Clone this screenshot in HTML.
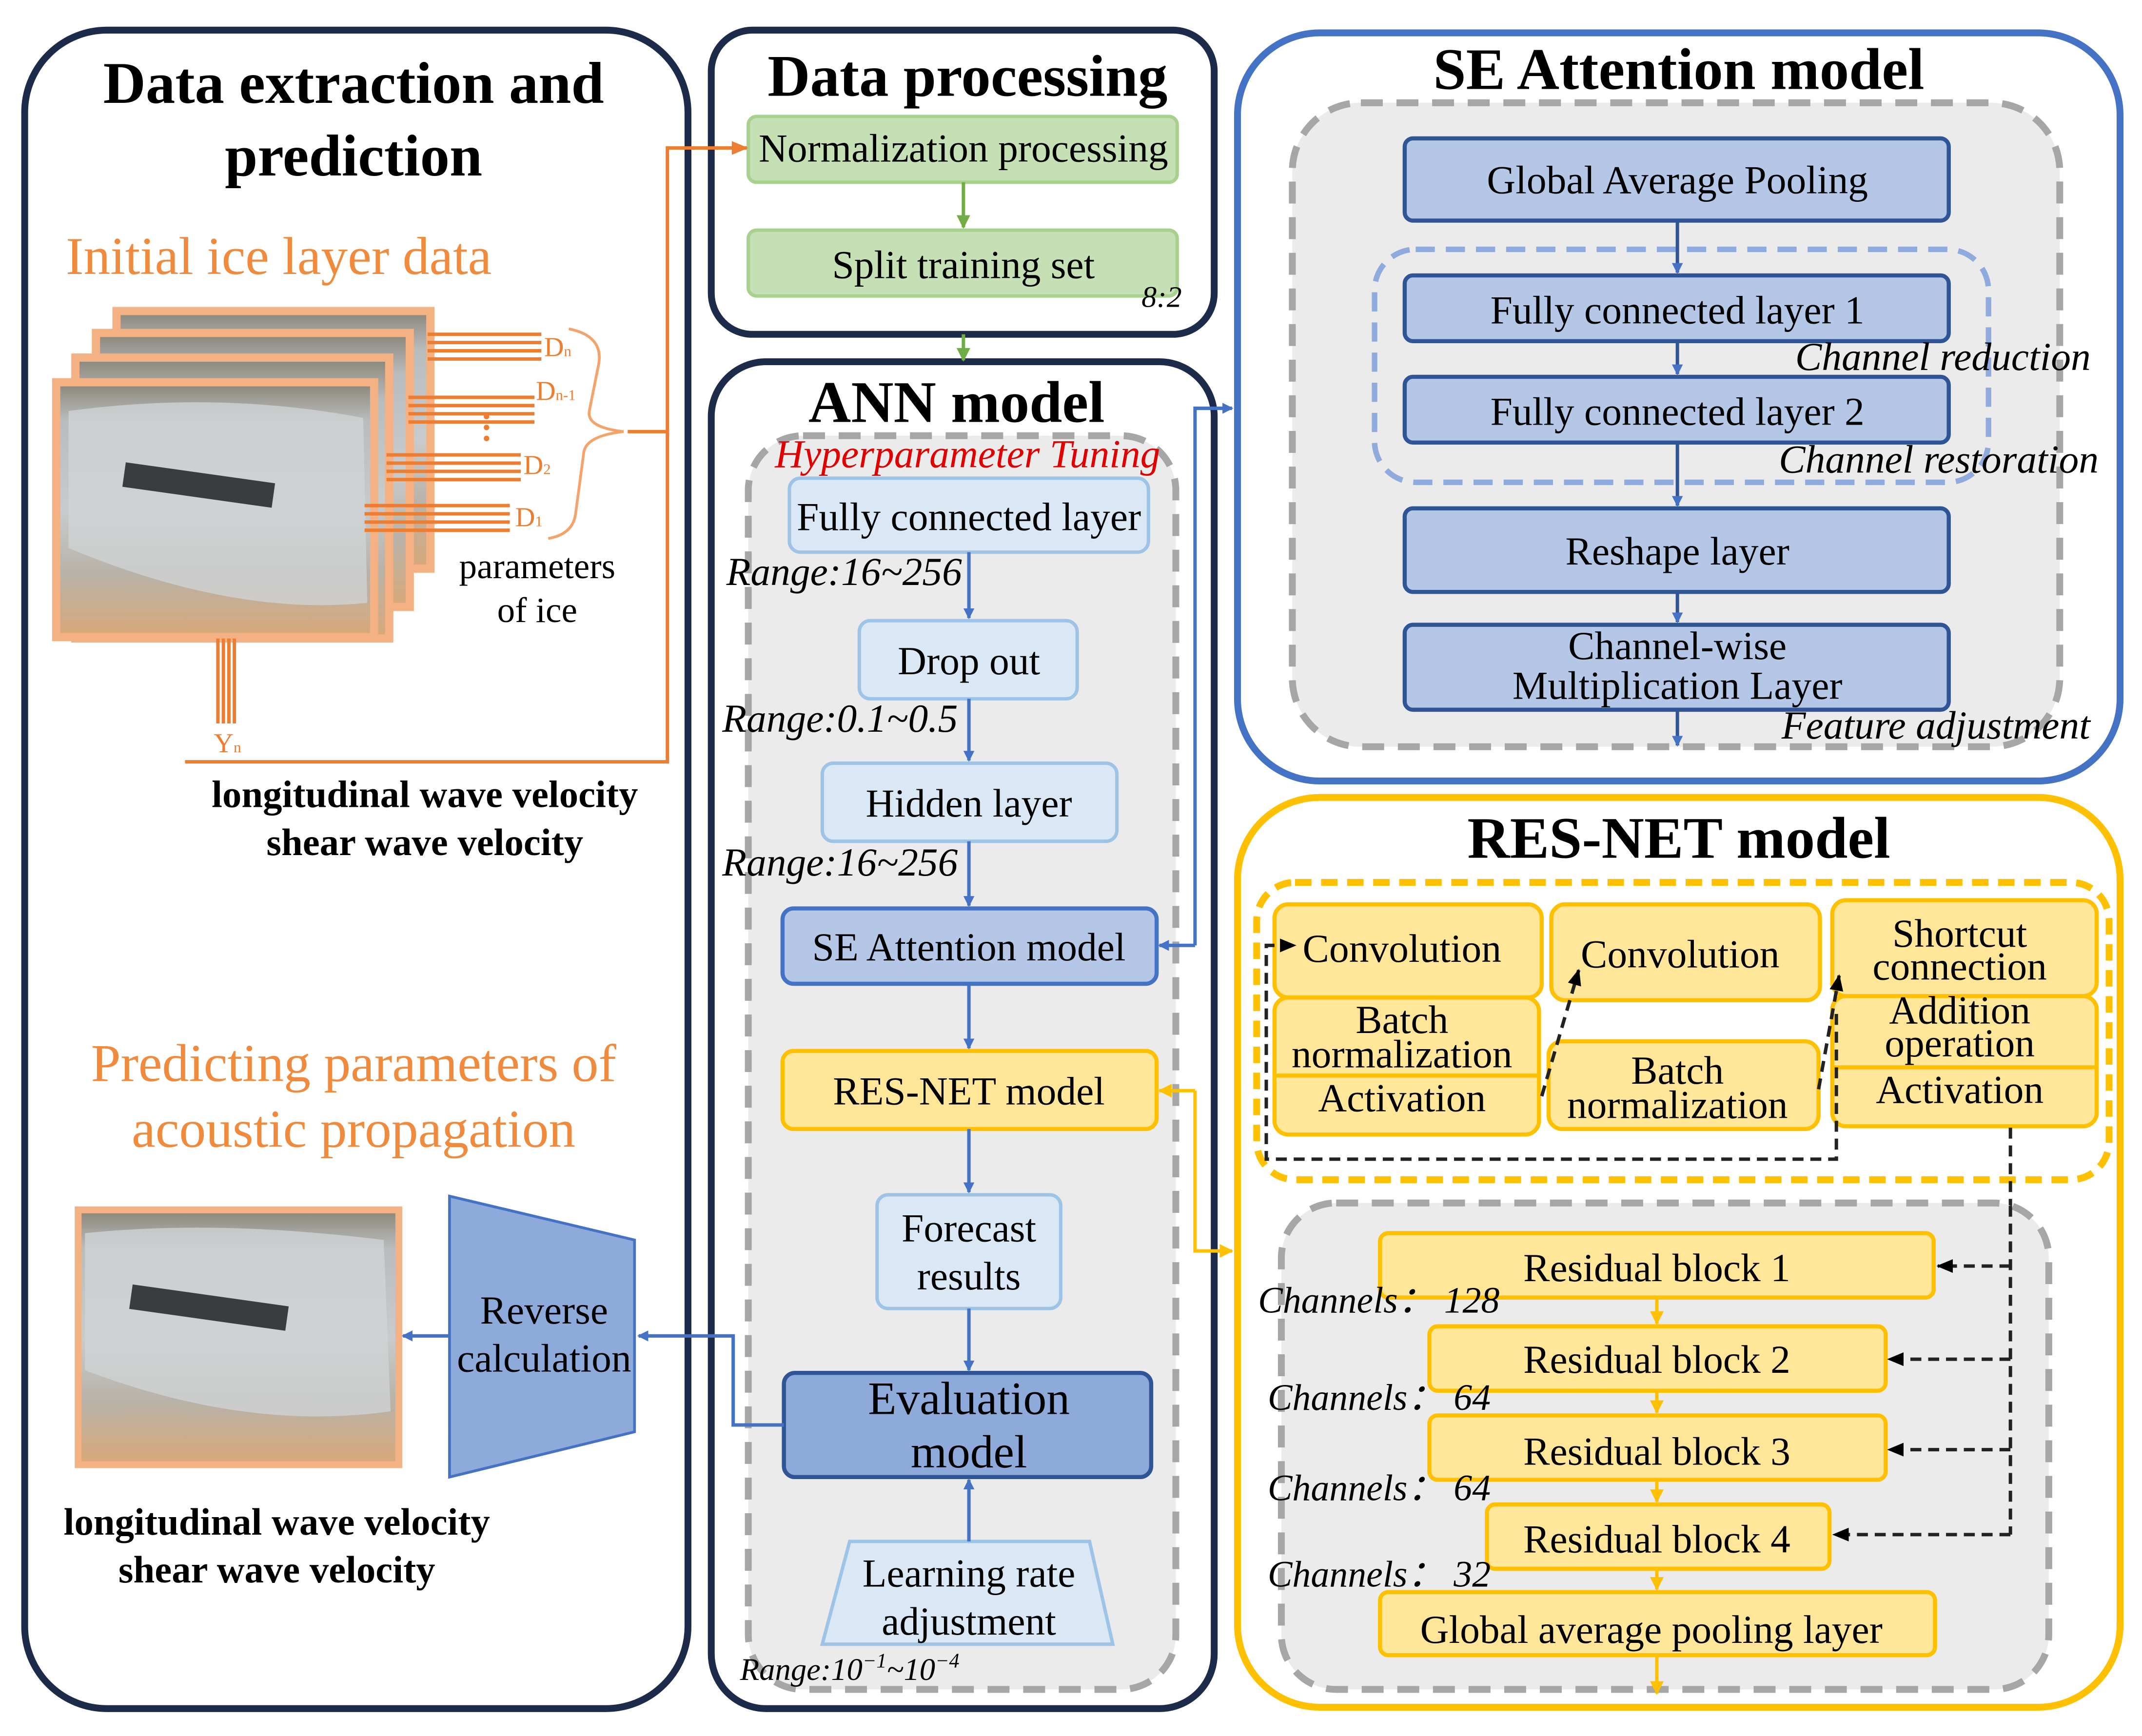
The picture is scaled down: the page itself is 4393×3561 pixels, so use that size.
<!DOCTYPE html>
<html><head><meta charset="utf-8"><style>
html,body{margin:0;padding:0;background:#fff}
svg{display:block}
text{font-family:"Liberation Serif",serif;fill:#000}
.t{text-anchor:middle}
.it{font-style:italic}
.h{font-weight:bold;text-anchor:middle}
</style></head><body>
<svg width="4393" height="3561" viewBox="0 0 1563 1267" xmlns="http://www.w3.org/2000/svg" font-size="29">
<defs>
<marker id="ab" markerWidth="8" markerHeight="8" refX="7" refY="4" orient="auto" markerUnits="userSpaceOnUse"><path d="M0,0 L8,4 L0,8 z" fill="#4472c4"/></marker>
<marker id="ao" markerWidth="12" markerHeight="10" refX="11" refY="5" orient="auto" markerUnits="userSpaceOnUse"><path d="M0,0 L12,5 L0,10 z" fill="#ed7d31"/></marker>
<marker id="ag" markerWidth="10" markerHeight="10" refX="9" refY="5" orient="auto" markerUnits="userSpaceOnUse"><path d="M0,0 L10,5 L0,10 z" fill="#70ad47"/></marker>
<marker id="ay" markerWidth="10" markerHeight="10" refX="9" refY="5" orient="auto" markerUnits="userSpaceOnUse"><path d="M0,0 L10,5 L0,10 z" fill="#ffc000"/></marker>
<marker id="ak" markerWidth="12" markerHeight="10" refX="11" refY="5" orient="auto" markerUnits="userSpaceOnUse"><path d="M0,0 L12,5 L0,10 z" fill="#000"/></marker>
<linearGradient id="ice" x1="0" y1="0" x2="0" y2="1">
<stop offset="0" stop-color="#8a8478"/><stop offset="0.15" stop-color="#b9bcbd"/><stop offset="0.5" stop-color="#c8cbcc"/><stop offset="0.75" stop-color="#b8b2a8"/><stop offset="1" stop-color="#d9a878"/></linearGradient>
</defs>

<!-- LEFT PANEL -->
<rect x="18" y="22" width="484" height="1225" rx="60" fill="#fff" stroke="#1c2b4a" stroke-width="5"/>
<text x="258" y="75" class="h" font-size="43">Data extraction and</text>
<text x="258" y="128" class="h" font-size="43">prediction</text>
<text x="48" y="200" font-size="39" style="fill:#f08a3c">Initial ice layer data</text>
<g stroke="#f4b183" stroke-width="6">
<rect x="85" y="227" width="229" height="188" fill="url(#ice)"/>
<rect x="70" y="243" width="229" height="200" fill="url(#ice)"/>
<rect x="55" y="261" width="229" height="205" fill="url(#ice)"/>
<rect x="41" y="279" width="232" height="186" fill="url(#ice)"/>
</g>
<path d="M50,300 Q160,285 265,305 L268,440 Q170,450 50,400 Z" fill="#d0d3d4" opacity="0.8"/>
<rect x="90" y="345" width="110" height="18" fill="#3a3d40" transform="rotate(8 145 354)"/>
<g stroke="#ed7d31" stroke-width="2.5">
<line x1="312" y1="244" x2="395" y2="244"/><line x1="312" y1="250" x2="395" y2="250"/><line x1="312" y1="256" x2="395" y2="256"/><line x1="312" y1="262" x2="395" y2="262"/>
<line x1="298" y1="290" x2="390" y2="290"/><line x1="298" y1="296" x2="390" y2="296"/><line x1="298" y1="302" x2="390" y2="302"/><line x1="298" y1="308" x2="390" y2="308"/>
<line x1="282" y1="332" x2="380" y2="332"/><line x1="282" y1="338" x2="380" y2="338"/><line x1="282" y1="344" x2="380" y2="344"/><line x1="282" y1="350" x2="380" y2="350"/>
<line x1="266" y1="369" x2="372" y2="369"/><line x1="266" y1="375" x2="372" y2="375"/><line x1="266" y1="381" x2="372" y2="381"/><line x1="266" y1="387" x2="372" y2="387"/>
<line x1="159" y1="466" x2="159" y2="528"/><line x1="163" y1="466" x2="163" y2="528"/><line x1="167" y1="466" x2="167" y2="528"/><line x1="171" y1="466" x2="171" y2="528"/>
</g>
<g font-size="20">
<text x="397" y="260" style="fill:#ed7d31">D<tspan font-size="11">n</tspan></text>
<text x="391" y="292" style="fill:#ed7d31">D<tspan font-size="11">n-1</tspan></text>
<text x="382" y="346" style="fill:#ed7d31">D<tspan font-size="11">2</tspan></text>
<text x="376" y="384" style="fill:#ed7d31">D<tspan font-size="11">1</tspan></text>
<text x="156" y="549" style="fill:#ed7d31">Y<tspan font-size="11">n</tspan></text>
</g>
<circle cx="355" cy="304" r="2" fill="#ed7d31"/><circle cx="355" cy="312" r="2" fill="#ed7d31"/><circle cx="355" cy="320" r="2" fill="#ed7d31"/>
<path d="M415,240 Q440,245 437,265 L430,300 Q428,312 455,315 Q428,318 426,330 L420,375 Q418,390 400,393" fill="none" stroke="#f4a36a" stroke-width="2"/>
<text x="392" y="422" class="t" font-size="26">parameters</text>
<text x="392" y="454" class="t" font-size="26">of ice</text>
<text x="310" y="589" class="h" font-size="28">longitudinal wave velocity</text>
<text x="310" y="624" class="h" font-size="28">shear wave velocity</text>
<text x="258" y="789" class="t" font-size="39" style="fill:#f08a3c">Predicting parameters of</text>
<text x="258" y="837" class="t" font-size="39" style="fill:#f08a3c">acoustic propagation</text>
<rect x="57" y="883" width="234" height="186" fill="url(#ice)" stroke="#f4b183" stroke-width="5"/>
<path d="M62,900 Q160,890 280,905 L285,1030 Q180,1045 62,1000 Z" fill="#d0d3d4" opacity="0.8"/>
<rect x="95" y="945" width="115" height="18" fill="#3a3d40" transform="rotate(8 150 954)"/>
<path d="M328,873 L463,905 L463,1045 L328,1078 Z" fill="#8eaadb" stroke="#4472c4" stroke-width="2"/>
<text x="397" y="966" class="t">Reverse</text>
<text x="397" y="1001" class="t">calculation</text>
<line x1="328" y1="975" x2="294" y2="975" stroke="#4472c4" stroke-width="2.5" marker-end="url(#ab)"/>
<text x="202" y="1120" class="h" font-size="28">longitudinal wave velocity</text>
<text x="202" y="1155" class="h" font-size="28">shear wave velocity</text>

<!-- DATA PROCESSING -->
<rect x="519" y="22" width="367" height="222" rx="30" fill="#fff" stroke="#1c2b4a" stroke-width="5"/>
<text x="706" y="70" class="h" font-size="43">Data processing</text>
<rect x="546" y="85" width="313" height="48" rx="6" fill="#c5e0b4" stroke="#a9d18e" stroke-width="2.5"/>
<text x="703" y="118" class="t">Normalization processing</text>
<line x1="703" y1="133" x2="703" y2="166" stroke="#70ad47" stroke-width="2.5" marker-end="url(#ag)"/>
<rect x="546" y="168" width="313" height="48" rx="6" fill="#c5e0b4" stroke="#a9d18e" stroke-width="2.5"/>
<text x="703" y="203" class="t">Split training set</text>
<text x="833" y="224" class="it" font-size="22">8:2</text>

<!-- ANN MODEL -->
<rect x="519" y="264" width="367" height="983" rx="40" fill="#fff" stroke="#1c2b4a" stroke-width="5"/>
<line x1="703" y1="244" x2="703" y2="263" stroke="#70ad47" stroke-width="2.5" marker-end="url(#ag)"/>
<text x="698" y="308" class="h" font-size="43">ANN model</text>
<rect x="546" y="318" width="312" height="915" rx="40" fill="#ebebeb" stroke="#a6a6a6" stroke-width="5" stroke-dasharray="16,10"/>
<text x="706" y="341" class="it t" style="fill:#e00000">Hyperparameter Tuning</text>
<g stroke="#9dc3e6" stroke-width="2.5" fill="#dae8f5">
<rect x="576" y="349" width="262" height="54" rx="8"/>
<rect x="627" y="453" width="159" height="57" rx="8"/>
<rect x="600" y="557" width="215" height="57" rx="8"/>
<rect x="640" y="872" width="134" height="83" rx="8"/>
<path d="M620,1125 H795 L812,1200 H600 Z"/>
</g>
<text x="707" y="387" class="t">Fully connected layer</text>
<text x="707" y="492" class="t">Drop out</text>
<text x="707" y="596" class="t">Hidden layer</text>
<text x="707" y="906" class="t">Forecast</text>
<text x="707" y="941" class="t">results</text>
<text x="707" y="1158" class="t">Learning rate</text>
<text x="707" y="1193" class="t">adjustment</text>
<text x="530" y="427" class="it">Range:16~256</text>
<text x="527" y="534" class="it">Range:0.1~0.5</text>
<text x="527" y="639" class="it">Range:16~256</text>
<text x="540" y="1226" class="it" font-size="23">Range:10<tspan font-size="15" dy="-9">−1</tspan><tspan dy="9">~10</tspan><tspan font-size="15" dy="-9">−4</tspan></text>
<rect x="571" y="663" width="273" height="55" rx="8" fill="#b4c7e7" stroke="#4472c4" stroke-width="3"/>
<text x="707" y="701" class="t">SE Attention model</text>
<rect x="571" y="767" width="273" height="57" rx="8" fill="#ffe699" stroke="#ffc000" stroke-width="3"/>
<text x="707" y="806" class="t">RES-NET model</text>
<rect x="572" y="1002" width="268" height="76" rx="8" fill="#8eaadb" stroke="#2f5597" stroke-width="3"/>
<text x="707" y="1032" class="t" font-size="34">Evaluation</text>
<text x="707" y="1071" class="t" font-size="34">model</text>
<g stroke="#4472c4" stroke-width="2.5" marker-end="url(#ab)">
<line x1="707" y1="403" x2="707" y2="451"/>
<line x1="707" y1="510" x2="707" y2="555"/>
<line x1="707" y1="614" x2="707" y2="661"/>
<line x1="707" y1="718" x2="707" y2="765"/>
<line x1="707" y1="824" x2="707" y2="870"/>
<line x1="707" y1="955" x2="707" y2="1000"/>
<line x1="707" y1="1125" x2="707" y2="1080"/>
</g>

<!-- SE ATTENTION -->
<rect x="903" y="24" width="644" height="546" rx="60" fill="#fff" stroke="#4472c4" stroke-width="5"/>
<text x="1225" y="65" class="h" font-size="43">SE Attention model</text>
<rect x="943" y="75" width="560" height="470" rx="50" fill="#ebebeb" stroke="#a6a6a6" stroke-width="5" stroke-dasharray="16,10"/>
<rect x="1003" y="182" width="448" height="170" rx="30" fill="none" stroke="#8faadc" stroke-width="4" stroke-dasharray="14,8"/>
<g fill="#b4c7e7" stroke="#2f5597" stroke-width="3">
<rect x="1025" y="101" width="397" height="60" rx="6"/>
<rect x="1025" y="201" width="397" height="48" rx="6"/>
<rect x="1025" y="275" width="397" height="48" rx="6"/>
<rect x="1025" y="371" width="397" height="61" rx="6"/>
<rect x="1025" y="456" width="397" height="62" rx="6"/>
</g>
<text x="1224" y="141" class="t">Global Average Pooling</text>
<text x="1224" y="236" class="t">Fully connected layer 1</text>
<text x="1224" y="310" class="t">Fully connected layer 2</text>
<text x="1224" y="412" class="t">Reshape layer</text>
<text x="1224" y="481" class="t">Channel-wise</text>
<text x="1224" y="510" class="t">Multiplication Layer</text>
<g stroke="#2f5597" stroke-width="2.5" marker-end="url(#ab)">
<line x1="1224" y1="161" x2="1224" y2="199"/>
<line x1="1224" y1="249" x2="1224" y2="273"/>
<line x1="1224" y1="323" x2="1224" y2="369"/>
<line x1="1224" y1="432" x2="1224" y2="454"/>
<line x1="1224" y1="518" x2="1224" y2="544"/>
</g>
<text x="1310" y="270" class="it">Channel reduction</text>
<text x="1298" y="345" class="it">Channel restoration</text>
<text x="1300" y="539" class="it">Feature adjustment</text>

<!-- RES-NET -->
<rect x="903" y="582" width="644" height="664" rx="60" fill="#fff" stroke="#ffc000" stroke-width="5"/>
<text x="1225" y="626" class="h" font-size="43">RES-NET model</text>
<rect x="917" y="644" width="622" height="217" rx="28" fill="#fff" stroke="#ffc000" stroke-width="5" stroke-dasharray="12,7"/>
<g fill="#ffe699" stroke="#ffc000" stroke-width="3">
<rect x="930" y="728" width="193" height="100" rx="10"/>
<rect x="930" y="660" width="195" height="68" rx="10"/>
<rect x="1337" y="727" width="193" height="95" rx="10"/>
<rect x="1337" y="657" width="193" height="70" rx="10"/>
<rect x="1132" y="660" width="196" height="70" rx="10"/>
<rect x="1130" y="760" width="197" height="64" rx="10"/>
</g>
<line x1="930" y1="785" x2="1123" y2="785" stroke="#ffc000" stroke-width="3"/>
<line x1="1337" y1="779" x2="1530" y2="779" stroke="#ffc000" stroke-width="3"/>
<text x="1023" y="702" class="t">Convolution</text>
<text x="1023" y="754" class="t">Batch</text>
<text x="1023" y="779" class="t">normalization</text>
<text x="1023" y="811" class="t">Activation</text>
<text x="1226" y="706" class="t">Convolution</text>
<text x="1224" y="791" class="t">Batch</text>
<text x="1224" y="816" class="t">normalization</text>
<text x="1430" y="691" class="t">Shortcut</text>
<text x="1430" y="715" class="t">connection</text>
<text x="1430" y="747" class="t">Addition</text>
<text x="1430" y="771" class="t">operation</text>
<text x="1430" y="805" class="t">Activation</text>
<g stroke="#222" stroke-width="2.5" stroke-dasharray="8,5" fill="none">
<path d="M1340,740 V846 H924 V690 H945" marker-end="url(#ak)"/>
<line x1="1125" y1="800" x2="1152" y2="708" marker-end="url(#ak)"/>
<line x1="1327" y1="795" x2="1342" y2="712" marker-end="url(#ak)"/>
<path d="M1467,823 V880"/>
</g>
<rect x="935" y="878" width="560" height="355" rx="40" fill="#ebebeb" stroke="#a6a6a6" stroke-width="5" stroke-dasharray="16,10"/>
<path d="M1467,880 V1120" stroke="#222" stroke-width="2.5" stroke-dasharray="8,5"/>
<g fill="#ffe699" stroke="#ffc000" stroke-width="3">
<rect x="1007" y="900" width="404" height="47" rx="6"/>
<rect x="1043" y="968" width="333" height="47" rx="6"/>
<rect x="1043" y="1033" width="333" height="47" rx="6"/>
<rect x="1085" y="1098" width="250" height="47" rx="6"/>
<rect x="1007" y="1162" width="405" height="46" rx="6"/>
</g>
<g stroke="#222" stroke-width="2.5" stroke-dasharray="8,5" fill="none">
<line x1="1467" y1="924" x2="1414" y2="924" marker-end="url(#ak)"/>
<line x1="1467" y1="992" x2="1378" y2="992" marker-end="url(#ak)"/>
<line x1="1467" y1="1058" x2="1378" y2="1058" marker-end="url(#ak)"/>
<line x1="1467" y1="1120" x2="1338" y2="1120" marker-end="url(#ak)"/>
</g>
<text x="1209" y="935" class="t">Residual block 1</text>
<text x="1209" y="1002" class="t">Residual block 2</text>
<text x="1209" y="1069" class="t">Residual block 3</text>
<text x="1209" y="1133" class="t">Residual block 4</text>
<text x="1205" y="1199" class="t">Global average pooling layer</text>
<g stroke="#ffc000" stroke-width="2.5" marker-end="url(#ay)">
<line x1="1209" y1="947" x2="1209" y2="966"/>
<line x1="1209" y1="1015" x2="1209" y2="1031"/>
<line x1="1209" y1="1080" x2="1209" y2="1096"/>
<line x1="1209" y1="1145" x2="1209" y2="1160"/>
<line x1="1209" y1="1208" x2="1209" y2="1236"/>
</g>
<text x="918" y="958" class="it" font-size="27">Channels： 128</text>
<text x="925" y="1029" class="it" font-size="27">Channels： 64</text>
<text x="925" y="1095" class="it" font-size="27">Channels： 64</text>
<text x="925" y="1158" class="it" font-size="27">Channels： 32</text>

<!-- CONNECTORS on top -->
<path d="M458,315 H487 V556 H135" fill="none" stroke="#ed7d31" stroke-width="2.5"/>
<path d="M487,315 V108 H545" fill="none" stroke="#ed7d31" stroke-width="2.5" marker-end="url(#ao)"/>
<path d="M572,1040 H535 V975 H466" fill="none" stroke="#4472c4" stroke-width="2.5" marker-end="url(#ab)"/>
<path d="M872,690 V298 H899" fill="none" stroke="#4472c4" stroke-width="2.5" marker-end="url(#ab)"/>
<path d="M872,690 H846" fill="none" stroke="#4472c4" stroke-width="2.5" marker-end="url(#ab)"/>
<path d="M872,796 V913 H899" fill="none" stroke="#ffc000" stroke-width="2.5" marker-end="url(#ay)"/>
<path d="M872,796 H846" fill="none" stroke="#ffc000" stroke-width="2.5" marker-end="url(#ay)"/>
</svg>
</body></html>
